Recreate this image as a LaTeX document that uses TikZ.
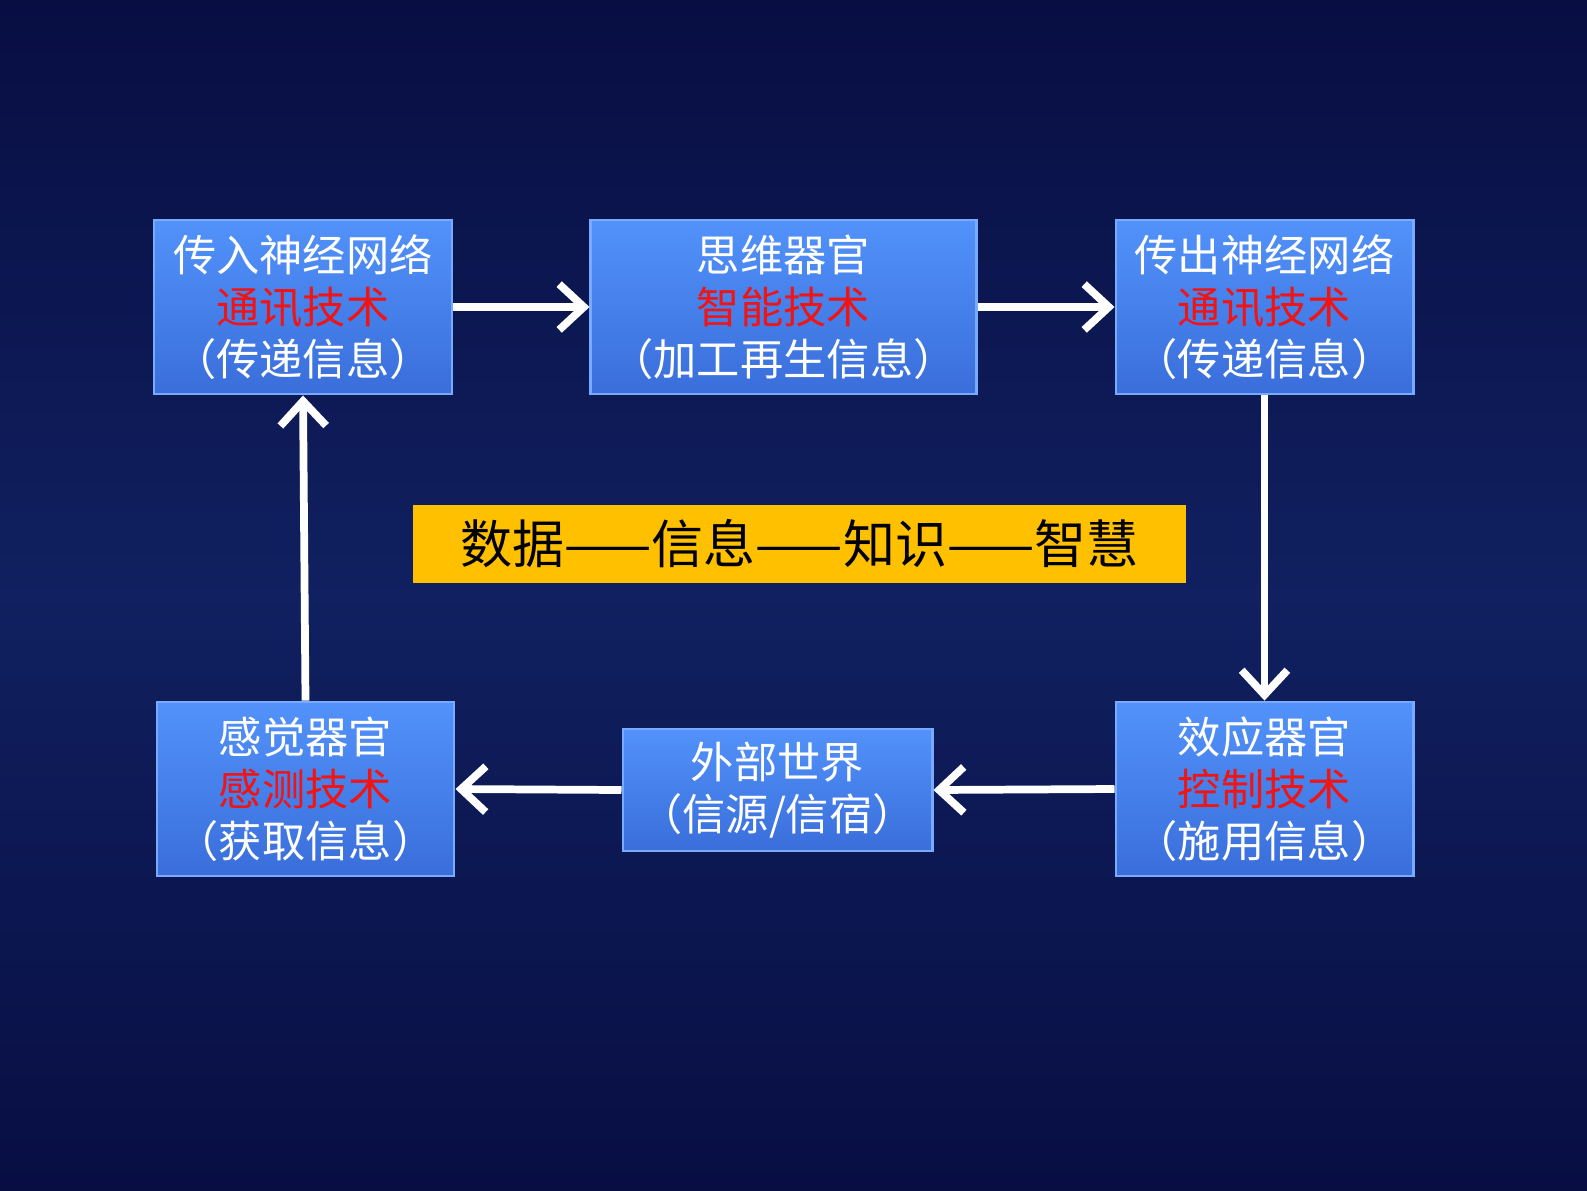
\documentclass[tikz,border=0pt]{standalone}
\usepackage{fontspec}
\setmainfont{Noto Sans CJK SC}
\usetikzlibrary{arrows.meta}
\definecolor{bgA}{RGB}{8,14,66}
\definecolor{bgB}{RGB}{16,32,96}
\definecolor{boxT}{RGB}{82,146,250}
\definecolor{boxB}{RGB}{58,110,218}
\definecolor{boxL}{RGB}{120,170,255}
\definecolor{redT}{RGB}{240,20,20}
\definecolor{yel}{RGB}{255,192,0}
\tikzset{
  bx/.style={draw=boxL, line width=0.8pt, top color=boxT, bottom color=boxB, text=white,
    align=center, inner sep=0pt, font=\fontsize{12.3}{14.8}\selectfont},
  arr/.style={draw=white, line width=2.2pt, -{Straight Barb[length=7pt,width=13pt,line width=2.2pt]}}
}
\newcommand{\rt}[1]{\textcolor{redT}{#1}}
\begin{document}
\begin{tikzpicture}[x=0.01cm,y=-0.01cm]
\shade[top color=bgA, bottom color=bgA, middle color=bgB] (0,0) rectangle (1587,1190);
\useasboundingbox (0,0) rectangle (1587,1190);
\node[bx, minimum width=2.98cm, minimum height=1.74cm] (A) at (303,307) {传入神经网络\\\rt{通讯技术}\\（传递信息）};
\node[bx, minimum width=3.85cm, minimum height=1.74cm] (B) at (783.5,307) {思维器官\\\rt{智能技术}\\（加工再生信息）};
\node[bx, minimum width=2.97cm, minimum height=1.74cm] (C) at (1264.5,307) {传出神经网络\\\rt{通讯技术}\\（传递信息）};
\node[bx, minimum width=2.97cm, minimum height=1.74cm] (D) at (305.5,789) {感觉器官\\\rt{感测技术}\\（获取信息）};
\node[bx, minimum width=3.09cm, minimum height=1.22cm] (E) at (777.5,790) {外部世界\\（信源/信宿）};
\node[bx, minimum width=2.97cm, minimum height=1.74cm] (F) at (1264.5,789) {效应器官\\\rt{控制技术}\\（施用信息）};
\node[fill=yel, minimum width=7.73cm, minimum height=0.78cm, inner sep=0pt,
  font=\fontsize{14.8}{16}\selectfont] (Y) at (799.5,544) {数据——信息——知识——智慧};
\draw[arr] (A.east) -- (B.west);
\draw[arr] (B.east) -- (C.west);
\draw[arr] (C.south) -- (F.north);
\draw[arr] (F.west) -- (E.east);
\draw[arr] (E.west) -- (D.east);
\draw[arr] (D.north) -- (A.south);
\end{tikzpicture}
\end{document}
